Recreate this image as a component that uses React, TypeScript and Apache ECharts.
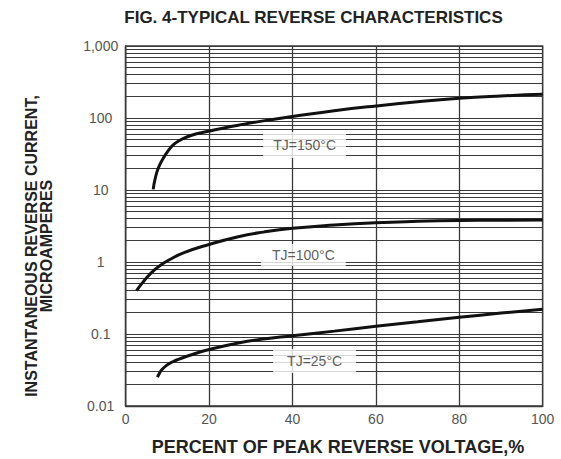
import React, { useEffect, useRef } from "react";
import * as echarts from "echarts";

const TITLE = "FIG. 4-TYPICAL REVERSE CHARACTERISTICS";
const X_NAME = "PERCENT OF PEAK REVERSE VOLTAGE,%";
const Y_NAME = "INSTANTANEOUS REVERSE CURRENT,\nMICROAMPERES";

const yTickValues = [0.01, 0.1, 1, 10, 100, 1000];
const yTickLabels = ["0.01", "0.1", "1", "10", "100", "1,000"];
const minorMultipliers = [2, 3, 4, 5, 6, 7, 8, 9];

const tj150: [number, number][] = [
  [6.6, 10.2], [7, 13.8], [7.8, 20], [9, 27.5], [10, 33.9], [11.4, 42.2], [13, 49],
  [14.6, 54.3], [17, 60.3], [19.8, 65.3], [23, 71.6], [27, 79.4], [33, 91.2],
  [40, 104.7], [50, 125.9], [60, 146.9], [70, 167.9], [80, 187.9], [90, 202.3], [100, 213.3],
];
const tj100: [number, number][] = [
  [2.6, 0.4], [4, 0.513], [5.8, 0.676], [8, 0.871], [10.6, 1.084], [14, 1.349],
  [19.8, 1.738], [27, 2.239], [33, 2.6], [40, 2.94], [50, 3.27], [60, 3.52],
  [70, 3.67], [80, 3.77], [90, 3.81], [100, 3.83],
];
const tj25: [number, number][] = [
  [7.6, 0.0251], [8.1, 0.0285], [8.6, 0.0316], [9.8, 0.0367], [11.3, 0.0412],
  [13, 0.0452], [16, 0.0519], [19.8, 0.0603], [27, 0.075], [33, 0.0851],
  [40, 0.0944], [50, 0.1096], [60, 0.1282], [70, 0.1479], [80, 0.1706],
  [90, 0.195], [100, 0.2213],
];

const labelTexts = ["TJ=150°C", "TJ=100°C", "TJ=25°C"];
const labelAnchors: [number, number][] = [[42.9, 42.2], [42.6, 1.25], [45.3, 0.0422]];
const labelPads: number[][] = [[6, 10], [4, 11], [5, 14]];

const GRID = "#3a3a3a";
const FONT = "Liberation Sans, Arial, sans-serif";

export default function App() {
  const ref = useRef<HTMLDivElement>(null);
  useEffect(() => {
    if (!ref.current) return;
    const chart = echarts.init(ref.current, undefined, { renderer: "svg" });
    const minors: number[] = [];
    for (let i = 0; i < yTickValues.length - 1; i++) {
      for (const m of minorMultipliers) minors.push(yTickValues[i] * m);
    }
    const curveStyle = { color: "#111", width: 3 };
    const curve = (data: [number, number][]) => ({
      type: "line",
      data,
      smooth: 0.5,
      showSymbol: false,
      lineStyle: curveStyle,
      z: 5,
    });
    chart.setOption({
      animation: false,
      backgroundColor: "#fff",
      grid: {
        left: 125.7,
        right: 18.3,
        top: 46,
        bottom: 53,
        show: true,
        borderColor: GRID,
        borderWidth: 1.3,
      },
      xAxis: {
        type: "value",
        min: 0,
        max: 100,
        interval: 20,
        axisLine: { show: true, lineStyle: { color: GRID, width: 1.3 } },
        axisTick: { show: false },
        axisLabel: { color: "#555", fontSize: 14, fontFamily: FONT, margin: 6 },
        splitLine: { show: true, lineStyle: { color: GRID, width: 1.3 } },
      },
      yAxis: {
        type: "log",
        logBase: 10,
        min: 0.01,
        max: 1000,
        axisLine: { show: true, lineStyle: { color: GRID, width: 1.3 } },
        axisTick: { show: false },
        axisLabel: {
          color: "#555",
          fontSize: 14,
          fontFamily: FONT,
          align: "center",
          margin: 25,
          padding: [10, 0, 0, 0],
          formatter: (v: number) => {
            let best = 0;
            let bd = Infinity;
            yTickValues.forEach((t, i) => {
              const d = Math.abs(Math.log10(t) - Math.log10(v));
              if (d < bd) { bd = d; best = i; }
            });
            return yTickLabels[best];
          },
        },
        splitLine: { show: true, lineStyle: { color: GRID, width: 1.2 } },
      },
      series: [
        {
          ...curve(tj25),
          markLine: {
            silent: true,
            symbol: "none",
            label: { show: false },
            lineStyle: { color: GRID, width: 1.1, type: "solid" },
            data: minors.map((v) => ({ yAxis: v })),
            z: 1,
          },
        },
        curve(tj100),
        curve(tj150),
        {
          type: "scatter",
          z: 10,
          symbolSize: 0,
          itemStyle: { color: "transparent" },
          data: labelAnchors.map((p, i) => ({
            value: p,
            label: {
              show: true,
              position: "inside",
              formatter: labelTexts[i],
              color: "#333",
              fontSize: 14,
              fontFamily: FONT,
              backgroundColor: "#fff",
              padding: labelPads[i],
            },
          })),
        },
      ],
      graphic: [
        {
          type: "text",
          x: 313.5,
          y: 17.5,
          style: {
            text: TITLE,
            font: `bold 17px ${FONT}`,
            fill: "#222",
            align: "center",
            verticalAlign: "middle",
            textAlign: "center",
            textVerticalAlign: "middle",
          },
        },
        {
          type: "text",
          x: 338,
          y: 447,
          style: {
            text: X_NAME,
            font: `bold 18px ${FONT}`,
            fill: "#222",
            align: "center",
            verticalAlign: "middle",
            textAlign: "center",
            textVerticalAlign: "middle",
          },
        },
        {
          type: "text",
          x: 38.5,
          y: 246,
          rotation: Math.PI / 2,
          style: {
            text: Y_NAME,
            font: `bold 16px ${FONT}`,
            lineHeight: 15,
            fill: "#222",
            align: "center",
            verticalAlign: "middle",
            textAlign: "center",
            textVerticalAlign: "middle",
          },
        },
      ],
    });
    return () => chart.dispose();
  }, []);
  return (
    <div
      ref={ref}
      style={{ position: "fixed", left: 0, top: 0, width: 561, height: 459 }}
    />
  );
}
